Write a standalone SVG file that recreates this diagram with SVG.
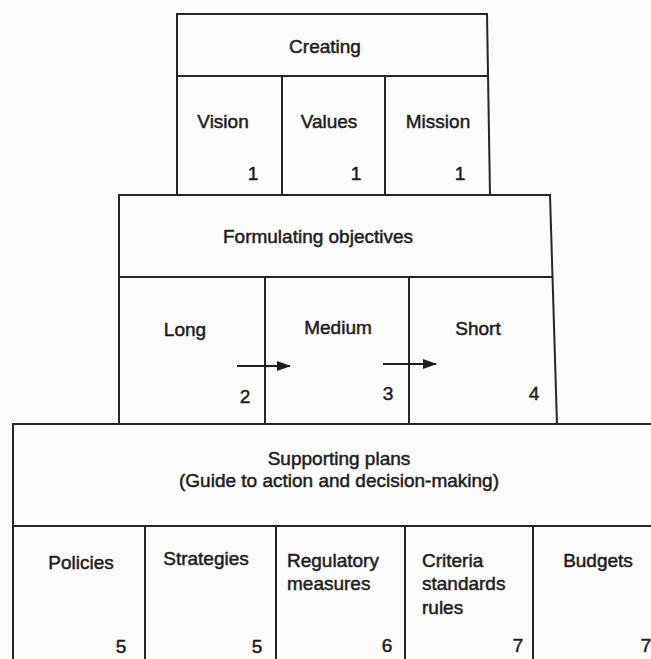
<svg xmlns="http://www.w3.org/2000/svg" width="651" height="659" viewBox="0 0 651 659">
<defs>
<style>
.box{fill:none;stroke:#262626;stroke-width:2}
.t{font-family:"Liberation Sans",Arial,Helvetica,sans-serif;font-size:19px;fill:#1e1e1e;stroke:#1e1e1e;stroke-width:0.5px}
.c{text-anchor:middle}
.e{text-anchor:end}
.conn{stroke:#1e1e1e;stroke-width:2;fill:none}
</style>
<marker id="ah" viewBox="0 0 14 10" refX="13" refY="5" markerWidth="14" markerHeight="10" markerUnits="userSpaceOnUse" orient="auto">
<path d="M0,0 L14,5 L0,10 Z" fill="#1e1e1e"/>
</marker>
</defs>
<rect width="651" height="659" fill="#fcfcfc"/>

<g id="creating">
<path class="box" d="M177,14 H487 L490,195 H177 Z M177,76 H488"/>
<text class="t c" x="325" y="53">Creating</text>
</g>
<g id="vision">
<text class="t c" x="223" y="128">Vision</text>
<text class="t c" x="253" y="180">1</text>
</g>
<g id="values">
<path class="box" d="M282,76 V195"/>
<text class="t c" x="329" y="128">Values</text>
<text class="t c" x="356" y="180">1</text>
</g>
<g id="mission">
<path class="box" d="M385,76 V195"/>
<text class="t c" x="438" y="128">Mission</text>
<text class="t c" x="460" y="180">1</text>
</g>

<g id="formulating">
<path class="box" d="M119,195 H550 L557,424 H119 Z M119,277 H552"/>
<text class="t c" x="318" y="243">Formulating objectives</text>
</g>
<g id="long">
<text class="t c" x="185" y="336">Long</text>
<text class="t c" x="245" y="403">2</text>
</g>
<g id="medium">
<path class="box" d="M265,277 V424"/>
<text class="t c" x="338" y="334">Medium</text>
<text class="t c" x="388" y="400">3</text>
</g>
<g id="short">
<path class="box" d="M409,277 V424"/>
<text class="t c" x="478" y="335">Short</text>
<text class="t c" x="534" y="400">4</text>
</g>

<g id="supporting">
<path class="box" d="M652,424 H13 V660 M13,526 H652"/>
<text class="t c" x="339" y="465">Supporting plans</text>
<text class="t c" x="339" y="487">(Guide to action and decision-making)</text>
</g>
<g id="policies">
<text class="t c" x="81" y="569">Policies</text>
<text class="t c" x="121" y="653">5</text>
</g>
<g id="strategies">
<path class="box" d="M145,526 V660"/>
<text class="t c" x="206" y="565">Strategies</text>
<text class="t c" x="257" y="653">5</text>
</g>
<g id="regulatory">
<path class="box" d="M276,526 V660"/>
<text class="t" x="287" y="567">Regulatory</text>
<text class="t" x="287" y="590">measures</text>
<text class="t c" x="387" y="652">6</text>
</g>
<g id="criteria">
<path class="box" d="M405,526 V660"/>
<text class="t" x="422" y="567">Criteria</text>
<text class="t" x="422" y="590">standards</text>
<text class="t" x="422" y="614">rules</text>
<text class="t c" x="518" y="652">7</text>
</g>
<g id="budgets">
<path class="box" d="M533,526 V660"/>
<text class="t c" x="598" y="567">Budgets</text>
<text class="t c" x="646" y="652">7</text>
</g>

<g id="connectors">
<line class="conn" x1="237" y1="366" x2="290" y2="366" marker-end="url(#ah)"/>
<line class="conn" x1="383" y1="364" x2="436" y2="364" marker-end="url(#ah)"/>
</g>
</svg>
